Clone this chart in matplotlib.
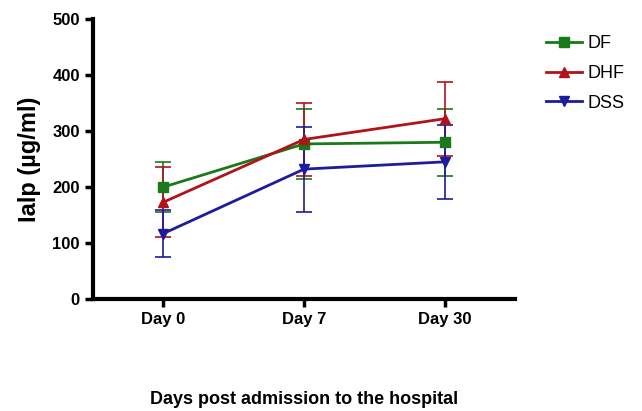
import matplotlib.pyplot as plt
from matplotlib.lines import Line2D
import numpy as np

plt.rcParams['font.family'] = ['Liberation Sans', 'DejaVu Sans']

# data
categories = ['Day 0', 'Day 7', 'Day 30']
df_mean = [200, 277, 280]
df_err = [45, 63, 60]
dhf_mean = [173, 285, 322]
dhf_err = [62, 65, 66]
dss_mean = [117, 232, 245]
dss_err = [42, 76, 66]

x = np.arange(len(categories))

fig = plt.figure(figsize=(6.42, 4.11), dpi=100)
ax = fig.add_axes([0.145, 0.2725, 0.657, 0.681])

series = [
    ('DF', df_mean, df_err, '#1a7a1a', 's'),
    ('DHF', dhf_mean, dhf_err, '#b0141a', '^'),
    ('DSS', dss_mean, dss_err, '#1c1c9c', 'v'),
]
handles = []
for name, m, e, c, mk in series:
    ax.errorbar(x, m, yerr=e, color=c, marker=mk, markersize=7, lw=2,
                capsize=6, capthick=1.2, elinewidth=1.2)
    handles.append(Line2D([], [], color=c, marker=mk, markersize=7, lw=2, label=name))

ax.set_xlim(-0.5, 2.5)
ax.set_ylim(0, 500)
ax.set_yticks([0, 100, 200, 300, 400, 500])
ax.set_xticks(x)
ax.set_xticklabels(categories)
for s in ['top', 'right']:
    ax.spines[s].set_visible(False)
for s in ['left', 'bottom']:
    ax.spines[s].set_linewidth(3)
ax.tick_params(width=2.5, length=6, labelsize=12)
for lbl in ax.get_xticklabels() + ax.get_yticklabels():
    lbl.set_fontweight('bold')

ax.set_ylabel('Ialp (µg/ml)', fontsize=17, fontweight='bold', labelpad=8)
ax.set_xlabel('Days post admission to the hospital', fontsize=13, fontweight='bold', labelpad=46)

ax.legend(handles=handles, loc='upper left', bbox_to_anchor=(1.035, 1.0), frameon=False,
          fontsize=13, handlelength=2.0, labelspacing=0.7, handletextpad=0.3)

fig.savefig('out.png', dpi=100)
